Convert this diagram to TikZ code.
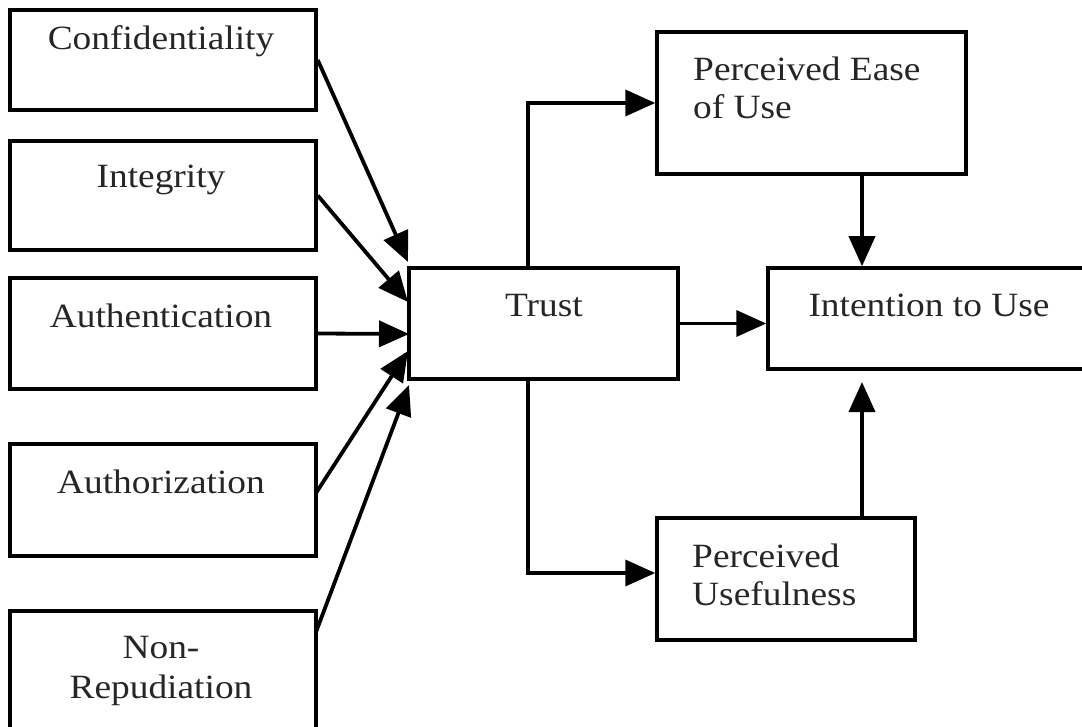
\documentclass[tikz,border=0pt]{standalone}
\usepackage{fontspec}
\setmainfont{Liberation Serif}[FakeStretch=1.1]
\usetikzlibrary{arrows.meta}
\tikzset{
  box/.style={draw=black, line width=3.5pt, inner sep=0pt, fill=none},
  lbl/.style={inner sep=0pt, text=black!85, font=\fontsize{34}{40}\selectfont},
  arr/.style={line width=3.8pt, -{Triangle[length=30pt,width=26pt]}},
}
\begin{document}
\begin{tikzpicture}[x=1pt, y={(0pt,-1pt)}]
\useasboundingbox (0,0) rectangle (1082,727);
\fill[white] (0,0) rectangle (1082,727);
% boxes
\node[box, minimum width=306pt, minimum height=100pt] (conf) at (163,60) {};
\node[box, minimum width=306pt, minimum height=109pt] (integ) at (163,195.5) {};
\node[box, minimum width=306pt, minimum height=111pt] (auth) at (163,333.5) {};
\node[box, minimum width=306pt, minimum height=112pt] (authz) at (163,500) {};
\node[box, minimum width=306pt, minimum height=150pt] (nonrep) at (163,686) {};
\node[box, minimum width=269pt, minimum height=111pt] (trust) at (543.5,323.5) {};
\node[box, minimum width=309pt, minimum height=142pt] (peu) at (811.5,103) {};
\node[box, minimum width=340pt, minimum height=101pt] (inten) at (938,318.5) {};
\node[box, minimum width=258pt, minimum height=122pt] (pu) at (786,579) {};
% texts
\node[lbl, anchor=base] (tconf) at (161,50) {Confidentiality};
\node[lbl, anchor=base] (tinteg) at (161,188) {Integrity};
\node[lbl, anchor=base] (tauth) at (161,328) {Authentication};
\node[lbl, anchor=base] (tauthz) at (161,493) {Authorization};
\node[lbl, anchor=base] (tnon1) at (161,658) {Non-};
\node[lbl, anchor=base] (tnon2) at (161,698) {Repudiation};
\node[lbl, anchor=base] (ttrust) at (544,317) {Trust};
\node[lbl, anchor=base] (tinten) at (929,317) {Intention to Use};
\node[lbl, anchor=base west] (tpeu1) at (693,81) {Perceived Ease};
\node[lbl, anchor=base west] (tpeu2) at (693,119) {of Use};
\node[lbl, anchor=base west] (tpu1) at (692,567) {Perceived};
\node[lbl, anchor=base west] (tpu2) at (692,605) {Usefulness};
% helper coordinates
\coordinate (jx) at (528,0);
\coordinate (ax) at (862,0);
\coordinate (s4) at (316,493);
\coordinate (s5) at (316,632);
\coordinate (t1) at (408,262);
\coordinate (t2) at (408,302);
\coordinate (t3) at (409,334);
\coordinate (t4) at (408,351);
\coordinate (t5) at (409,385);
\coordinate (tipPU) at (862,382);
\coordinate (pux) at (0,573);
% converging arrows
\draw[arr] (conf.east) -- (t1);
\draw[arr] (integ.east) -- (t2);
\draw[arr] (auth.east) -- (t3);
\draw[arr] (s4) -- (t4);
\draw[arr] (s5) -- (t5);
% trust outputs
\draw[arr] (trust.north -| jx) |- (peu.west);
\draw[arr] (trust.south -| jx) |- (pu.west |- pux);
\draw[arr] (trust.east) -- (trust.east -| inten.west);
\draw[arr] (peu.south -| ax) -- (inten.north -| ax);
\draw[arr] (pu.north -| ax) -- (tipPU);
\end{tikzpicture}
\end{document}
